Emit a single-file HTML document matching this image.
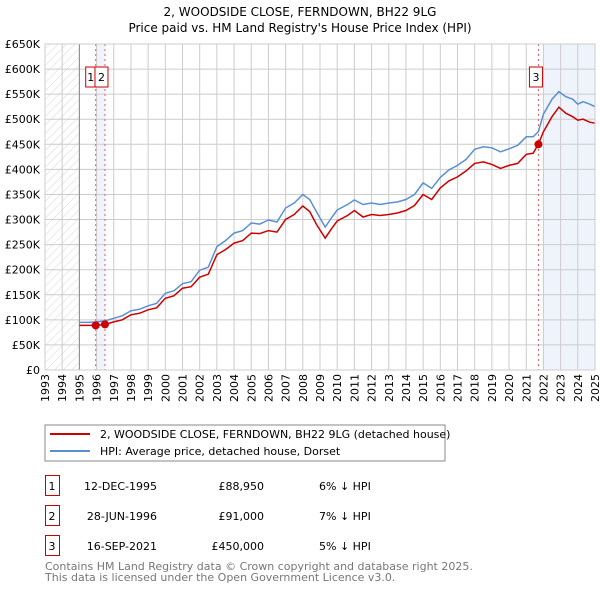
<!DOCTYPE html>
<html><head><meta charset="utf-8"><style>
body{margin:0;background:#fff;font-family:"DejaVu Sans","Liberation Sans",sans-serif;}
svg text{font-family:"DejaVu Sans","Liberation Sans",sans-serif;}
</style></head><body>
<svg id="c" width="600" height="590" xmlns="http://www.w3.org/2000/svg">
<defs><pattern id="hatch" width="6" height="6" patternUnits="userSpaceOnUse" patternTransform="rotate(45)"><line x1="0" y1="0" x2="0" y2="6" stroke="#ccc" stroke-width="0.8"/></pattern></defs>
<text x="300" y="16" text-anchor="middle" font-size="12">2, WOODSIDE CLOSE, FERNDOWN, BH22 9LG</text>
<text x="300" y="32" text-anchor="middle" font-size="12">Price paid vs. HM Land Registry's House Price Index (HPI)</text>
<g id="plot"></g>
<rect x="45" y="425" width="400" height="36" fill="#fff" stroke="#888"/>
<line x1="50" y1="434" x2="90" y2="434" stroke="#cc0000" stroke-width="2"/>
<text x="100" y="438" font-size="11">2, WOODSIDE CLOSE, FERNDOWN, BH22 9LG (detached house)</text>
<line x1="50" y1="451" x2="90" y2="451" stroke="#5b8fd4" stroke-width="2"/>
<text x="100" y="455" font-size="11">HPI: Average price, detached house, Dorset</text>
<g font-size="11">
<rect x="45.5" y="475.5" width="14" height="20" fill="none" stroke="#c00"/><text x="52" y="490" text-anchor="middle">1</text>
<text x="157" y="490" text-anchor="end">12-DEC-1995</text><text x="264" y="490" text-anchor="end">£88,950</text><text x="319" y="490">6% ↓ HPI</text>
<rect x="45.5" y="505.5" width="14" height="20" fill="none" stroke="#c00"/><text x="52" y="520" text-anchor="middle">2</text>
<text x="157" y="520" text-anchor="end">28-JUN-1996</text><text x="264" y="520" text-anchor="end">£91,000</text><text x="319" y="520">7% ↓ HPI</text>
<rect x="45.5" y="535.5" width="14" height="20" fill="none" stroke="#c00"/><text x="52" y="550" text-anchor="middle">3</text>
<text x="157" y="550" text-anchor="end">16-SEP-2021</text><text x="264" y="550" text-anchor="end">£450,000</text><text x="319" y="550">5% ↓ HPI</text>
</g>
<text x="45" y="570" font-size="11" fill="#777">Contains HM Land Registry data © Crown copyright and database right 2025.</text>
<text x="45" y="581" font-size="11" fill="#777">This data is licensed under the Open Government Licence v3.0.</text>
</svg>
<script>
const dates=[1995.0,1995.5,1996.0,1996.5,1997,1997.5,1998,1998.5,1999,1999.5,2000,2000.5,2001,2001.5,2002,2002.5,2003,2003.5,2004,2004.5,2005,2005.5,2006,2006.5,2007,2007.5,2008,2008.4,2008.8,2009.3,2009.7,2010,2010.6,2011,2011.5,2012,2012.5,2013,2013.5,2014,2014.5,2015,2015.5,2016,2016.5,2017,2017.5,2018,2018.5,2019,2019.5,2020,2020.5,2021,2021.4,2021.7,2022,2022.5,2022.9,2023.3,2023.7,2024,2024.3,2024.7,2025];
const hpi=[95,95,96,98,103,108,118,121,128,133,153,158,172,176,199,205,246,258,273,278,293,291,299,295,323,333,350,340,315,285,305,319,330,339,330,333,330,333,335,340,350,373,362,384,399,408,420,440,445,443,435,441,448,465,465,475,510,540,555,545,540,530,535,530,525];
const price=[89,89,89,91,96,100,110,113,120,124,143,148,163,166,185,191,230,240,253,258,273,272,278,275,300,310,327,316,290,263,283,297,308,318,305,310,308,310,313,318,328,350,340,363,377,385,397,412,415,410,402,408,412,430,432,450,475,505,524,512,505,498,500,494,492];
const saleDates=[1995.95,1996.49,2021.71];
const saleValues=[88.95,91,450];
const saleLabels=["1","2","3"];
const yTicks=[0,50,100,150,200,250,300,350,400,450,500,550,600,650];
const yTickLabels=["£0","£50K","£100K","£150K","£200K","£250K","£300K","£350K","£400K","£450K","£500K","£550K","£600K","£650K"];
const years=[1993,1994,1995,1996,1997,1998,1999,2000,2001,2002,2003,2004,2005,2006,2007,2008,2009,2010,2011,2012,2013,2014,2015,2016,2017,2018,2019,2020,2021,2022,2023,2024,2025];
const X0=45,X1=595,Y0=370,Y1=44;
const xs=t=>X0+(t-1993)/(2025-1993)*(X1-X0);
const ys=v=>Y0-v/650*(Y0-Y1);
const NS="http://www.w3.org/2000/svg";
const g=document.getElementById('plot');
function mk(tag,a){const e=document.createElementNS(NS,tag);for(const k in a)e.setAttribute(k,a[k]);g.appendChild(e);return e;}
let r=mk('rect',{x:X0,y:Y1,width:X1-X0,height:Y0-Y1,fill:'#fff'});


r=mk('rect',{x:X0,y:Y1,width:xs(1995)-X0,height:Y0-Y1,fill:'url(#hatch)'});


r=mk('rect',{x:xs(saleDates[0]),y:Y1,width:xs(saleDates[1])-xs(saleDates[0]),height:Y0-Y1,fill:'#eef3fc'});


r=mk('rect',{x:xs(2022),y:Y1,width:X1-xs(2022),height:Y0-Y1,fill:'#eef3fc'});


years.forEach(y=>{
 const l=mk('line',{x1:xs(y),x2:xs(y),y1:Y1,y2:Y0,stroke:'#ccc','stroke-width':1});
 
 
 const t=mk('text',{x:0,y:0,'font-size':11,'text-anchor':'end',transform:`translate(${xs(y)+4},374) rotate(-90)`});
 t.textContent=y;
 
 
});
yTicks.forEach((v,i)=>{
 const l=mk('line',{x1:X0,x2:X1,y1:ys(v),y2:ys(v),stroke:'#ccc','stroke-width':1});
 
 
 const t=mk('text',{x:40,y:ys(v)+4,'font-size':11,'text-anchor':'end'});
 t.textContent=yTickLabels[i];
 
 
});
const ax=mk('line',{x1:xs(1995),x2:xs(1995),y1:Y1,y2:Y0,stroke:'#888'});


saleDates.forEach((d,i)=>{
 const l=mk('line',{x1:xs(d),x2:xs(d),y1:Y1,y2:Y0,stroke:'#e06060','stroke-dasharray':'2,3'});
 
 
});
function path(vals,color,name){
 const p=mk('path',{d:dates.map((d,i)=>(i?'L':'M')+xs(d).toFixed(1)+','+ys(vals[i]).toFixed(1)).join(''),fill:'none',stroke:color,'stroke-width':1.5});
 
 
}
path(hpi,'#5b8fd4','hpi-line');
path(price,'#cc0000','price-line');
saleDates.forEach((d,i)=>{
 const c=mk('circle',{cx:xs(d),cy:ys(saleValues[i]),r:4,fill:'#cc0000'});
 
 
});
const lbx=[xs(saleDates[0])-10,xs(saleDates[1])-10,xs(saleDates[2])-9];
saleLabels.forEach((s,i)=>{
 const b=mk('rect',{x:lbx[i],y:67,width:i==0?10:13,height:20,fill:'#fff',stroke:'#c00'});
 
 
 const t=mk('text',{x:lbx[i]+(i==0?5:6.5),y:81,'font-size':11,'text-anchor':'middle'});
 t.textContent=s;
 
 
});
const border=mk('rect',{x:X0,y:Y1,width:X1-X0,height:Y0-Y1,fill:'none',stroke:'#ccc'});


</script>
</body></html>
